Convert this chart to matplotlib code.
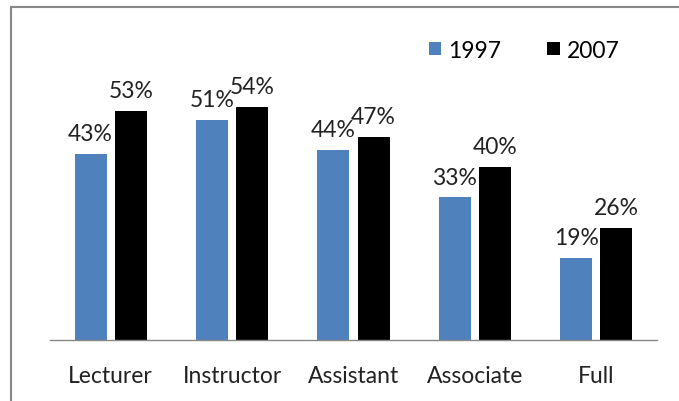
import matplotlib.pyplot as plt
import numpy as np
from matplotlib.lines import Line2D

plt.rcParams['font.family'] = ['Lato', 'DejaVu Sans']

categories = ['Lecturer', 'Instructor', 'Assistant', 'Associate', 'Full']
vals_1997 = [43, 51, 44, 33, 19]
vals_2007 = [53, 54, 47, 40, 26]

fig = plt.figure(figsize=(6.79, 4.02), dpi=100)
# axes placed in pixel terms: x 50..657, y 60..341 (from top)
ax = fig.add_axes([50/679, (402-341)/402, (657-50)/679, (341-60)/402])

x = np.arange(len(categories))
w = 0.264
off = 0.165
b1 = ax.bar(x - off, vals_1997, w, color='#4F81BD', label='1997')
b2 = ax.bar(x + off, vals_2007, w, color='black', label='2007')

for rect, v in zip(b1, vals_1997):
    ax.annotate(f'{v}%', (rect.get_x() + rect.get_width()/2, v), xytext=(0, 7),
                textcoords='offset points', ha='center', va='bottom', fontsize=16.5, color='#222222')
for rect, v in zip(b2, vals_2007):
    ax.annotate(f'{v}%', (rect.get_x() + rect.get_width()/2, v), xytext=(0, 7),
                textcoords='offset points', ha='center', va='bottom', fontsize=16.5, color='#222222')

ax.set_xlim(-0.5, 4.5)
ax.set_ylim(0, 65)
ax.set_xticks(x)
ax.set_xticklabels(categories, fontsize=16.5, color='#222222')
ax.tick_params(axis='x', length=0, pad=18)
ax.set_yticks([])
for s in ['top', 'right', 'left']:
    ax.spines[s].set_visible(False)
ax.spines['bottom'].set_color('#888888')
ax.spines['bottom'].set_linewidth(1)

fig.legend(loc='upper right', bbox_to_anchor=(640/679, 1 - 20/402), ncol=2, frameon=False,
           fontsize=16.5, handlelength=0.55, handleheight=0.55, columnspacing=2.0, handletextpad=0.3)

# chart border (top and left edges visible)
fig.add_artist(Line2D([11/679, 1], [1 - 8/402, 1 - 8/402], transform=fig.transFigure, color='#888888', lw=1.5))
fig.add_artist(Line2D([11/679, 11/679], [0, 1 - 8/402], transform=fig.transFigure, color='#888888', lw=1.5))

fig.savefig('out.png', dpi=100)
